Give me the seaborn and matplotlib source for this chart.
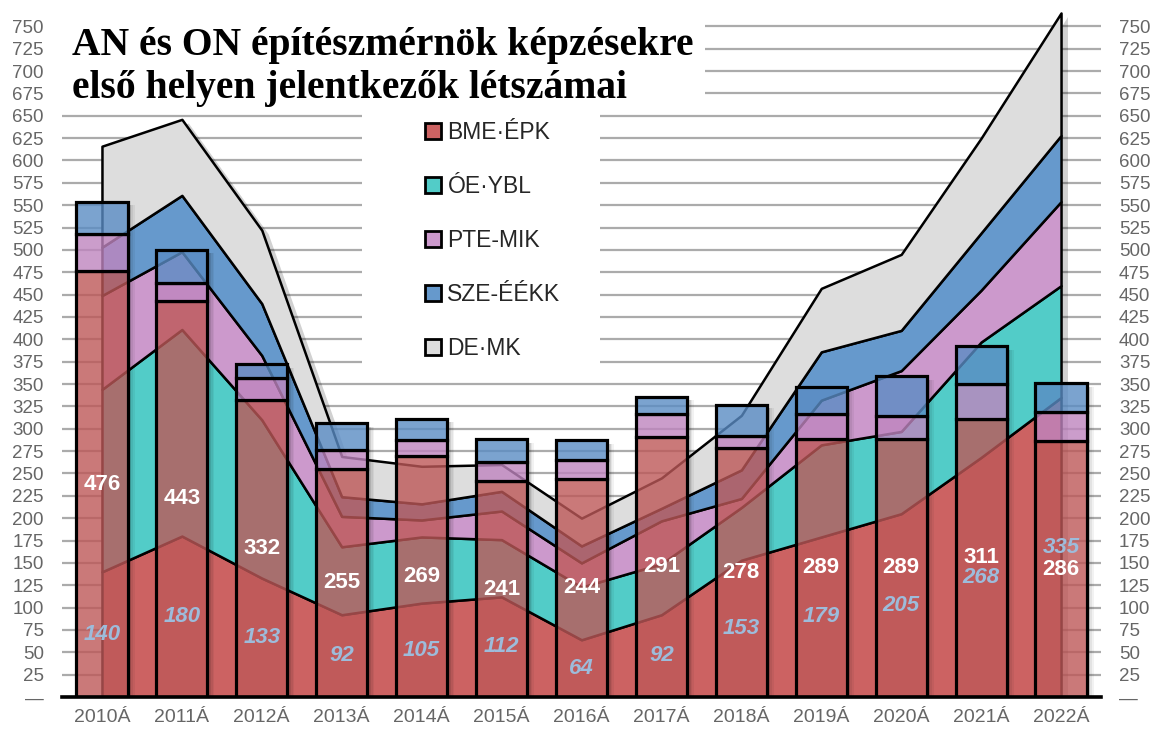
import numpy as np
import seaborn as sns
import matplotlib.pyplot as plt
import matplotlib.patheffects as pe
from matplotlib.patches import Patch, Rectangle
from matplotlib.colors import to_rgba

# ---- data -------------------------------------------------------------
years = ["2010Á", "2011Á", "2012Á", "2013Á", "2014Á", "2015Á", "2016Á",
         "2017Á", "2018Á", "2019Á", "2020Á", "2021Á", "2022Á"]
schools = ["BME·ÉPK", "ÓE·YBL", "PTE-MIK", "SZE-ÉÉKK", "DE·MK"]

# stacked bars (white labels)
an_bme = [476, 443, 332, 255, 269, 241, 244, 291, 278, 289, 289, 311, 286]
an_pte = [42, 20, 25, 21, 18, 22, 21, 25, 14, 28, 25, 39, 33]
an_sze = [36, 37, 15, 30, 24, 25, 22, 20, 35, 30, 45, 42, 32]

# stacked areas (blue italic labels)
on_bme = [140, 180, 133, 92, 105, 112, 64, 92, 153, 179, 205, 268, 335]
on_oe = [204, 231, 177, 76, 74, 64, 59, 57, 59, 103, 92, 129, 125]
on_pte = [105, 87, 72, 34, 19, 32, 27, 48, 10, 50, 68, 58, 94]
on_sze = [54, 63, 58, 22, 18, 22, 19, 14, 32, 54, 45, 64, 74]
on_de = [113, 85, 82, 45, 42, 30, 31, 34, 61, 71, 85, 106, 137]

area_colors = ["#CC6262", "#52CCC8", "#CC99CC", "#6699CC", "#DDDDDD"]
bar_colors = ["#BD5858", "#BF85BF", "#5A8CC4"]

# ---- figure -----------------------------------------------------------
sns.set_theme(style="white")
plt.rcParams["font.family"] = ["Liberation Sans", "DejaVu Sans"]

W, H = 1151, 734
fig = plt.figure(figsize=(W / 100, H / 100), dpi=100, facecolor="white")
ax = fig.add_axes([62 / W, 37 / H, (1101 - 62) / W, 693 / H])

x = np.arange(len(years))
width = 0.64

# area envelope with a drop shadow
on_series = [on_bme, on_oe, on_pte, on_sze, on_de]
on_total = np.sum(on_series, axis=0)
ax.fill_between(x, 0, on_total, facecolor="white", edgecolor="none", zorder=1.8,
                path_effects=[pe.SimplePatchShadow(offset=(5, -3), shadow_rgbFace="black", alpha=0.18),
                              pe.Normal()])

base = np.zeros(len(x))
for vals, c in zip(on_series, area_colors):
    ax.fill_between(x, base, base + np.array(vals), facecolor=c, edgecolor="black",
                    linewidth=1.8, zorder=2)
    base = base + np.array(vals)

# bar shadows
an_series = [an_bme, an_pte, an_sze]
an_total = np.sum(an_series, axis=0)
for k, a in enumerate([0.3, 0.2, 0.11, 0.05]):
    ax.bar(x + width / 2 + 0.022 * k + 0.011, an_total - 4, width=0.022,
           color="black", alpha=a, linewidth=0, zorder=2.5)

bottom = np.zeros(len(x))
for vals, c in zip(an_series, bar_colors):
    ax.bar(x, vals, bottom=bottom, width=width, color=to_rgba(c, 0.8),
           edgecolor="black", linewidth=2.3, zorder=3)
    bottom = bottom + np.array(vals)

# value labels
for i in x:
    ax.text(i, an_bme[i] / 2, str(an_bme[i]), ha="center", va="center",
            color="white", fontsize=16, fontweight="bold", zorder=6)
    ax.text(i, on_bme[i] / 2, str(on_bme[i]), ha="center", va="center",
            color="#9DBCDB", fontsize=16, fontweight="bold", style="italic", zorder=6)

# axes styling
ax.set_xlim(-0.5, 12.5)
ax.set_ylim(0, 775)
yt = np.arange(0, 751, 25)
ax.set_yticks(yt, ["—" if v == 0 else str(v) for v in yt])
ax.set_xticks(x, years)
ax.tick_params(axis="y", length=0, pad=13, labelsize=13.5, labelcolor="#666666",
               labelleft=True, labelright=True)
ax.tick_params(axis="x", length=0, pad=9, labelsize=14, labelcolor="#666666")
ax.set_axisbelow(True)
ax.yaxis.grid(True, color="#ABABAB", linewidth=1.6)
ax.xaxis.grid(False)
sns.despine(ax=ax, left=True, right=True, top=True)
ax.spines["bottom"].set_color("black")
ax.spines["bottom"].set_linewidth(2.6)
ax.spines["bottom"].set_zorder(4)

# white boxes behind title and legend
fig.patches.append(Rectangle((62 / W, 1 - 104 / H), (705 - 62) / W, 104 / H,
                             transform=fig.transFigure, facecolor="white",
                             edgecolor="none", zorder=1))
fig.patches.append(Rectangle((362 / W, 1 - 378 / H), (600 - 362) / W, (378 - 100) / H,
                             transform=fig.transFigure, facecolor="white",
                             edgecolor="none", zorder=1))

title_font = ["Liberation Serif", "DejaVu Serif"]
fig.text(72 / W, 1 - 55 / H, "AN és ON építészmérnök képzésekre", family=title_font,
         fontsize=28.5, fontweight="bold", color="black", va="baseline", ha="left", zorder=3)
fig.text(72 / W, 1 - 98 / H, "első helyen jelentkezők létszámai", family=title_font,
         fontsize=28.5, fontweight="bold", color="black", va="baseline", ha="left", zorder=3)

handles = [Patch(facecolor=c, edgecolor="black", linewidth=2) for c in area_colors]
fig.legend(handles, schools, loc="upper left", bbox_to_anchor=(425 / W, 1 - 121 / H),
           frameon=False, prop={"family": ["Liberation Sans Narrow", "Liberation Sans"], "size": 16.5},
           handlelength=0.68, handleheight=0.68, handletextpad=0.3, labelspacing=1.35,
           borderpad=0, borderaxespad=0)

fig.savefig("out.png", dpi=100, facecolor="white")
